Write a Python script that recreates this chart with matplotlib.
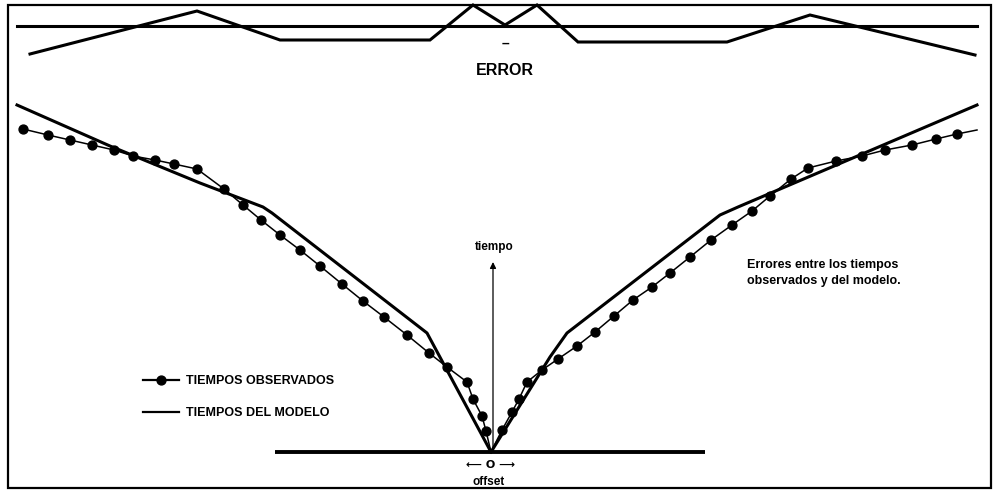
import matplotlib
matplotlib.use("Agg")
import matplotlib.pyplot as plt
from matplotlib.patches import Rectangle
from matplotlib.lines import Line2D

# ---- data (offset, tiempo) ----
obs_left_offset = [-468, -443, -421, -399, -377, -358, -336, -317, -294, -267, -248, -230,
                   -211, -191, -171, -149, -128, -107, -84, -62, -44, -24, -18, -9, -5, 0]
obs_left_time = [323, 317, 312, 307, 302, 296, 292, 288, 283, 263, 247, 232,
                 217, 202, 186, 168, 151, 135, 117, 99, 85, 70, 53, 36, 21, 0]

obs_right_offset = [0, 11, 21, 28, 36, 51, 67, 86, 104, 123, 142, 161, 179, 199, 220, 241,
                    261, 279, 300, 317, 345, 371, 394, 421, 445, 466, 486]
obs_right_time = [0, 22, 40, 53, 70, 82, 93, 106, 120, 136, 152, 165, 179, 195, 212, 227,
                  241, 256, 273, 284, 291, 296, 302, 307, 313, 318, 322]

model_left_offset = [-474, -381, -291, -228, -219, -64, 0]
model_left_time = [347, 306, 269, 245, 239, 119, 0]
model_right_offset = [0, 59, 76, 229, 247, 486]
model_right_time = [0, 95, 119, 237, 245, 347]

err_offset = [-461, -294, -211, -61, -18, 14, 46, 87, 236, 319, 484]
err_value = [-28, 15, -14, -14, 21, 1, 21, -16, -16, 11, -29]
err_zero_span = [-474, 486]

baseline_span = [-216, 214]

legend_labels = ["TIEMPOS OBSERVADOS", "TIEMPOS DEL MODELO"]

W, H = 993, 491
fig = plt.figure(figsize=(W / 100, H / 100), dpi=100)
fig.patch.set_facecolor("white")

OX, OY = 491, 452      # pixel position of offset 0 / tiempo 0
EY = 26                # pixel row of error zero line

ax = fig.add_axes([0, 0, 1, 1])
ax.set_xlim(-OX, W - OX)
ax.set_ylim(OY - H, OY)
ax.axis("off")

ax_e = fig.add_axes([0, 0, 1, 1])
ax_e.set_xlim(-OX, W - OX)
ax_e.set_ylim(EY - H, EY)
ax_e.axis("off")
ax_e.patch.set_alpha(0)

fam = ["Liberation Sans", "DejaVu Sans"]

# observed
obs_kw = dict(color="black", lw=1.1, marker="o", ms=6.4, mfc="black", mec="black")
n_l = len(obs_left_offset)
ax.plot(obs_left_offset, obs_left_time, markevery=list(range(n_l - 1)), **obs_kw)
n_r = len(obs_right_offset)
ax.plot(obs_right_offset, obs_right_time, markevery=list(range(1, n_r - 1)), **obs_kw)

# model
ax.plot(model_left_offset, model_left_time, color="black", lw=2.2, solid_joinstyle="round")
ax.plot(model_right_offset, model_right_time, color="black", lw=2.2, solid_joinstyle="round")

# baseline
ax.plot(baseline_span, [0, 0], color="black", lw=2.8, solid_capstyle="butt")

# tiempo axis arrow
ax.annotate("", xy=(2, 190), xytext=(2, 0),
            arrowprops=dict(arrowstyle="-|>", color="black", lw=0.9,
                            mutation_scale=9, shrinkA=0, shrinkB=0))
ax.text(3, 205, "tiempo", ha="center", va="center", fontsize=8.5,
        fontweight="bold", family=fam)

ax.text(0, -13, "\u27f5 O \u27f6", ha="center", va="center", fontsize=8,
        fontweight="bold", family=["DejaVu Sans"])
ax.text(-2, -30, "offset", ha="center", va="center", fontsize=8.5,
        fontweight="bold", family=fam)

ax.text(256, 179, "Errores entre los tiempos\nobservados y del modelo.",
        ha="left", va="center", fontsize=9, fontweight="bold", family=fam,
        linespacing=1.45)

# legend
h_obs = Line2D([], [], color="black", lw=1.6, marker="o", ms=6.4, mfc="black", mec="black")
h_mod = Line2D([], [], color="black", lw=1.6)
leg = ax.legend([h_obs, h_mod], legend_labels,
                loc="upper left", bbox_to_anchor=(143 / W, 1 - 375 / H),
                bbox_transform=fig.transFigure, frameon=False, numpoints=1,
                handlelength=2.9, handletextpad=0.55, labelspacing=1.62,
                borderpad=0, borderaxespad=0,
                prop=dict(family=fam, weight="bold", size=9))

# error panel
ax_e.plot(err_zero_span, [0, 0], color="black", lw=2.2)
ax_e.plot(err_offset, err_value, color="black", lw=2.2, solid_joinstyle="miter")
ax_e.text(14, -18, "\u2013", ha="center", va="center", fontsize=10,
          fontweight="bold", family=fam)
ax_e.text(14, -44, "ERROR", ha="center", va="center", fontsize=11.5,
          fontweight="bold", family=fam)

# frame
fig.patches.append(Rectangle((8 / W, 1 - 488 / H), (991 - 8) / W, (488 - 5) / H,
                             transform=fig.transFigure, fill=False,
                             edgecolor="black", lw=1.6, zorder=10))

fig.savefig("out.png", dpi=100, facecolor="white")
